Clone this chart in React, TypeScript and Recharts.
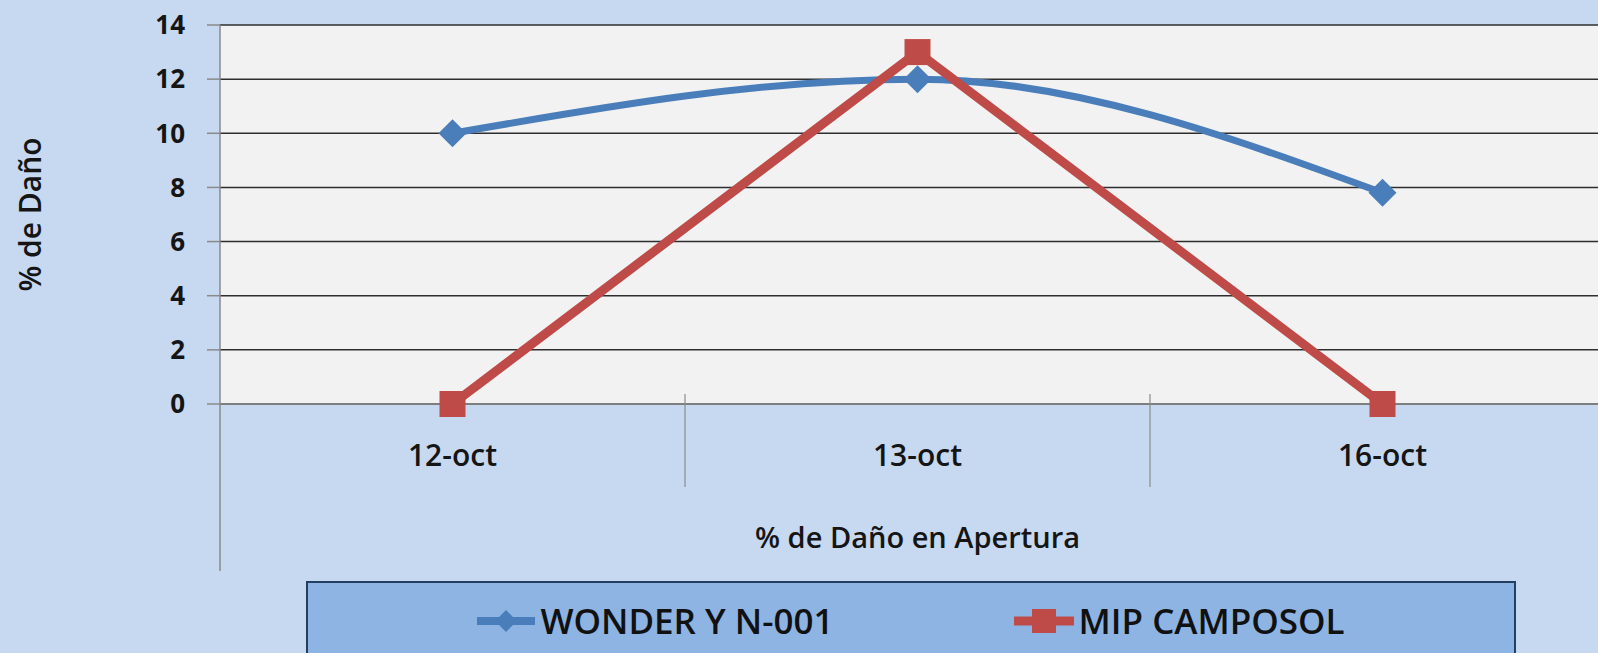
import { CartesianGrid, Label, Legend, Line, LineChart, XAxis, YAxis } from "recharts";

const categories = ["12-oct", "13-oct", "16-oct"];
const wonderValues = [10, 12, 7.8];
const mipValues = [0, 13, 0];
const yTicks = [0, 2, 4, 6, 8, 10, 12, 14];

const seriesKeys = ["wonder", "mip"];
const seriesNames = { wonder: "WONDER Y N-001", mip: "MIP CAMPOSOL" };

const data = categories.map((cat, i) => ({
  cat,
  wonder: wonderValues[i],
  mip: mipValues[i],
}));

const FONT = "'Open Sans', 'Noto Sans', sans-serif";
const BLUE = "#4a7ebb";
const RED = "#be4b48";
const AXIS_GRAY = "#8a8a8a";

const CHART_W = 1640;
const CHART_H = 653;
const PLOT_LEFT = 220;
const PLOT_RIGHT = 1615;
const PLOT_TOP = 25;
const PLOT_BOTTOM = 404;
const HALF_STEP = (PLOT_RIGHT - PLOT_LEFT) / categories.length / 2;

function XTick(props: any) {
  const { x, y, payload, index } = props;
  return (
    <g>
      {index === 0 ? (
        <line x1={x - HALF_STEP} x2={x - HALF_STEP} y1={y} y2={y + 167} stroke={AXIS_GRAY} strokeWidth={1.5} />
      ) : (
        <line x1={x - HALF_STEP} x2={x - HALF_STEP} y1={y - 10} y2={y + 83} stroke={AXIS_GRAY} strokeWidth={1.2} />
      )}
      <text x={x} y={y + 62} textAnchor="middle" fontFamily={FONT} fontSize={30} fontWeight={600} fill="#151515">
        {payload.value}
      </text>
    </g>
  );
}

function Diamond({ cx, cy, index }: any) {
  if (cx == null || cy == null) return null;
  const r = 14;
  return (
    <path
      key={`w-${index}`}
      d={`M${cx},${cy - r}L${cx + r},${cy}L${cx},${cy + r}L${cx - r},${cy}Z`}
      fill={BLUE}
    />
  );
}

function Square({ cx, cy, index }: any) {
  if (cx == null || cy == null) return null;
  const s = 13;
  return <rect key={`m-${index}`} x={cx - s} y={cy - s} width={2 * s} height={2 * s} fill={RED} />;
}

function LegendBox({ payload }: any) {
  const items = seriesKeys
    .map((k) => (payload || []).find((p: any) => p.dataKey === k))
    .filter(Boolean);
  return (
    <div
      style={{
        boxSizing: "border-box",
        width: "100%",
        height: "100%",
        border: "2px solid #243f60",
        background: "#8eb4e3",
        display: "flex",
        justifyContent: "center",
        alignItems: "flex-start",
        gap: 180,
        paddingTop: 14,
        fontFamily: FONT,
      }}
    >
      {items.map((item: any) => {
        const isWonder = item.dataKey === "wonder";
        return (
          <div key={item.dataKey} style={{ display: "flex", alignItems: "center", height: 48 }}>
            <svg width={isWonder ? 58 : 60} height={30} style={{ marginRight: 5 }}>
              <line x1={0} x2={isWonder ? 58 : 60} y1={15} y2={15} stroke={item.color} strokeWidth={isWonder ? 8 : 9} strokeLinecap="round" />
              {isWonder ? (
                <path d="M29,4L40,15L29,26L18,15Z" fill={item.color} />
              ) : (
                <rect x={18} y={3} width={24} height={24} fill={item.color} />
              )}
            </svg>
            <span style={{ fontSize: 35, fontWeight: 600, color: "#111", lineHeight: "48px" }}>{item.value}</span>
          </div>
        );
      })}
    </div>
  );
}

export default function App() {
  return (
    <div
      style={{
        position: "absolute",
        left: 0,
        top: 0,
        width: 1598,
        height: 653,
        overflow: "hidden",
        background: "#c6d9f0",
        fontFamily: FONT,
      }}
    >
      <LineChart
        width={CHART_W}
        height={CHART_H}
        data={data}
        margin={{ top: PLOT_TOP, right: CHART_W - PLOT_RIGHT, left: 0, bottom: 0 }}
      >
        <CartesianGrid horizontal vertical={false} fill="#f2f2f2" stroke="#2e2e2e" strokeWidth={1.5} />
        <XAxis
          dataKey="cat"
          height={CHART_H - PLOT_BOTTOM}
          padding={{ left: HALF_STEP, right: HALF_STEP }}
          interval={0}
          tickLine={false}
          tickSize={0}
          tickMargin={0}
          axisLine={{ stroke: AXIS_GRAY, strokeWidth: 1.5 }}
          tick={<XTick />}
        >
          <Label
            content={(p: any) => {
              const vb = p.viewBox;
              return (
                <text x={vb.x + vb.width / 2} y={vb.y + 144} textAnchor="middle" fontFamily={FONT} fontSize={29} fontWeight={600} fill="#151515">
                  % de Daño en Apertura
                </text>
              );
            }}
          />
        </XAxis>
        <YAxis
          width={PLOT_LEFT}
          domain={[0, 14]}
          ticks={yTicks}
          interval={0}
          tickSize={13}
          tickMargin={22}
          tickLine={{ stroke: AXIS_GRAY, strokeWidth: 1.5 }}
          axisLine={{ stroke: AXIS_GRAY, strokeWidth: 1.5 }}
          tick={{ fontFamily: FONT, fontSize: 26, fontWeight: 700, fill: "#151515" }}
        >
          <Label
            content={(p: any) => {
              const vb = p.viewBox;
              const cx = 41;
              const cy = vb.y + vb.height / 2;
              return (
                <text
                  x={cx}
                  y={cy}
                  transform={`rotate(-90 ${cx} ${cy})`}
                  textAnchor="middle"
                  fontFamily={FONT}
                  fontSize={30}
                  fontWeight={600}
                  fill="#151515"
                >
                  % de Daño
                </text>
              );
            }}
          />
        </YAxis>
        <Line
          dataKey="wonder"
          name={seriesNames.wonder}
          type="monotone"
          stroke={BLUE}
          strokeWidth={7}
          dot={<Diamond />}
          activeDot={false}
          isAnimationActive={false}
        />
        <Line
          dataKey="mip"
          name={seriesNames.mip}
          type="linear"
          stroke={RED}
          strokeWidth={9}
          dot={<Square />}
          activeDot={false}
          isAnimationActive={false}
        />
        <Legend
          layout="horizontal"
          verticalAlign="middle"
          align="center"
          width={1210}
          height={90}
          wrapperStyle={{ left: 306, top: 581, width: 1210, height: 90, margin: 0 }}
          content={<LegendBox />}
        />
      </LineChart>
    </div>
  );
}
